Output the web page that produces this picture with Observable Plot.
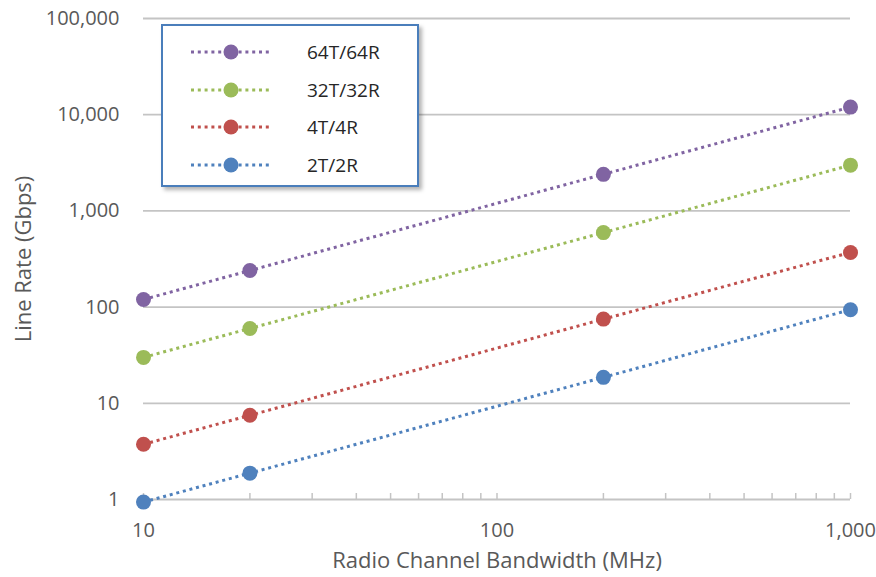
<!DOCTYPE html>
<html>
<head>
<meta charset="utf-8">
<script src="https://cdn.jsdelivr.net/npm/d3@7"></script>
<script src="https://cdn.jsdelivr.net/npm/@observablehq/plot@0.6"></script>
<style>
  body { margin: 0; background: #fff; }
  #wrap { position: relative; width: 876px; height: 577px; font-family: "Open Sans", sans-serif; }
  #legend { position: absolute; left: 161px; top: 24px; width: 258px; height: 163px; box-sizing: border-box;
    border: 2px solid #4A7EBB; background: #fff; box-shadow: 3px 3px 4px rgba(0,0,0,0.3); }
  .row { position: absolute; left: 0; width: 100%; height: 20px; }
  .row svg { position: absolute; left: 28px; top: 0; }
  .row span { position: absolute; left: 144px; top: 0; line-height: 20px; font-size: 19px; color: #262626; }
</style>
</head>
<body>
<div id="wrap"></div>
<script>
// ---- data ----
const bandwidths = [10, 20, 200, 1000];
const seriesNames = ["64T/64R", "32T/32R", "4T/4R", "2T/2R"];
const rate64 = [120, 240, 2400, 12000];
const rate32 = [30, 60, 595, 2990];
const rate4 = [3.75, 7.5, 75, 370];
const rate2 = [0.94, 1.88, 18.6, 94];
const seriesColors = ["#8064A2", "#9BBB59", "#C0504D", "#4F81BD"];
const yTicks = [1, 10, 100, 1000, 10000, 100000];
const xTicks = [10, 100, 1000];
const xMinorTicks = [10, 20, 30, 40, 50, 60, 70, 80, 90, 100, 200, 300, 400, 500, 600, 700, 800, 900, 1000];
const xTitle = "Radio Channel Bandwidth (MHz)";
const yTitle = "Line Rate (Gbps)";

const rates = [rate64, rate32, rate4, rate2];
const rows = [];
// draw in Excel order (2T/2R first)
for (let s = seriesNames.length - 1; s >= 0; s--) {
  bandwidths.forEach((b, i) => rows.push({series: seriesNames[s], x: b, y: rates[s][i]}));
}

const textColor = "#595959";
const grid = "#c4c4c4";
const dash = "3,3.8";

const chart = Plot.plot({
  width: 876,
  height: 577,
  marginLeft: 143,
  marginRight: 26,
  marginTop: 18,
  marginBottom: 78,
  style: {fontFamily: "Open Sans, sans-serif", fontSize: "20px", color: textColor, background: "#fff"},
  x: {type: "log", domain: [10, 1000]},
  y: {type: "log", domain: [1, 100000]},
  color: {domain: seriesNames, range: seriesColors},
  marks: [
    Plot.ruleY(yTicks, {stroke: grid, strokeWidth: 1.8}),
    Plot.ruleX(xMinorTicks, {x: d => d, y1: 1, y2: 1, insetTop: -6, stroke: grid, strokeWidth: 1.5}),
    Plot.axisY({ticks: yTicks, tickSize: 0, tickPadding: 24, tickFormat: d3.format(","), label: null, fill: textColor, fontSize: 20}),
    Plot.axisX({ticks: xTicks, tickSize: 0, tickPadding: 23, tickFormat: d3.format(","), label: null, fill: textColor, fontSize: 20}),
    Plot.text([xTitle], {frameAnchor: "bottom", dy: 61, lineAnchor: "middle", fill: textColor, fontSize: 22}),
    Plot.text([yTitle], {frameAnchor: "left", dx: -120, rotate: -90, lineAnchor: "middle", textAnchor: "middle", fill: textColor, fontSize: 22}),
    Plot.line(rows, {x: "x", y: "y", z: "series", stroke: "series", strokeWidth: 3, strokeDasharray: dash, strokeLinecap: "butt"}),
    Plot.dot(rows, {x: "x", y: "y", fill: "series", r: 7.5, stroke: null})
  ]
});

const wrap = document.getElementById("wrap");
wrap.appendChild(chart);

const legend = document.createElement("div");
legend.id = "legend";
seriesNames.forEach((name, i) => {
  const row = document.createElement("div");
  row.className = "row";
  row.style.top = (28 + 37.5 * i - 2 - 10) + "px";
  const c = seriesColors[i];
  row.innerHTML = `<svg width="80" height="20"><line x1="0" x2="80" y1="10" y2="10" stroke="${c}" stroke-width="3" stroke-dasharray="${dash}"/><circle cx="40" cy="10" r="7.5" fill="${c}"/></svg><span>${name}</span>`;
  legend.appendChild(row);
});
wrap.appendChild(legend);
</script>
</body>
</html>
